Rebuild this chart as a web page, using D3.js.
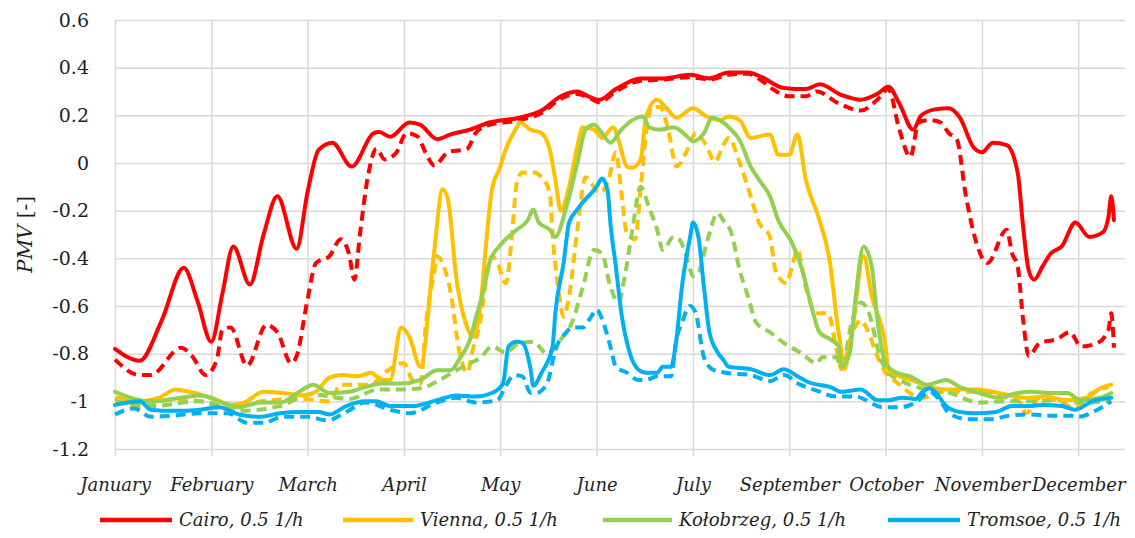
<!DOCTYPE html>
<html>
<head>
<meta charset="utf-8">
<script src="https://cdn.jsdelivr.net/npm/d3@7"></script>
<style>
  body { margin: 0; background: #fff; }
  svg { display: block; }
  text { font-family: "DejaVu Serif", "Liberation Serif", serif; fill: #1f1f1f; }
</style>
</head>
<body>
<svg id="chart" width="1135" height="538"></svg>
<script>
// Day-of-year axis: a label every 35 days
const tickDays = [0, 35, 70, 105, 140, 175, 210, 245, 280, 315, 350];
const tickLabels = ["January", "February", "March", "April", "May", "June", "July",
                    "September", "October", "November", "December"];
const dayDomainEnd = 367;

const yTicks = [0.6, 0.4, 0.2, 0, -0.2, -0.4, -0.6, -0.8, -1, -1.2];
const yTickLabels = ["0.6", "0.4", "0.2", "0", "-0.2", "-0.4", "-0.6", "-0.8", "-1", "-1.2"];

const legendNames = ["Cairo, 0.5 1/h", "Vienna, 0.5 1/h", "Kołobrzeg, 0.5 1/h", "Tromsoe, 0.5 1/h"];
const colors = ["#FF0000", "#FFC000", "#92D050", "#00B0F0"];

// PMV as [day, value]
const cairoSolid = [[0,-0.78],[9,-0.83],[17,-0.66],[25,-0.44],[30,-0.58],[35,-0.75],[39,-0.55],[43,-0.35],[49,-0.51],[54,-0.3],[59,-0.14],[66,-0.36],[70,-0.12],[74,0.055],[79,0.085],[86,-0.015],[94,0.125],[96,0.13],[100,0.11],[107,0.17],[111,0.16],[117,0.10],[122,0.12],[129,0.14],[136,0.17],[147,0.19],[155,0.22],[162,0.28],[168,0.30],[172,0.28],[176,0.265],[182,0.31],[191,0.355],[199,0.355],[209,0.37],[216,0.355],[223,0.38],[230,0.38],[235,0.36],[243,0.315],[251,0.31],[256,0.33],[264,0.285],[271,0.265],[277,0.29],[281,0.32],[285,0.25],[290,0.14],[293,0.20],[298,0.225],[303,0.23],[307,0.19],[312,0.065],[315,0.045],[319,0.085],[324,0.075],[328,-0.04],[330,-0.27],[332,-0.45],[334,-0.49],[337,-0.435],[340,-0.38],[344,-0.35],[349,-0.25],[354,-0.31],[359,-0.29],[361,-0.225],[362,-0.14],[363,-0.24]];
const cairoDashed = [[0,-0.825],[9,-0.89],[13,-0.89],[24,-0.775],[28,-0.81],[33,-0.89],[37,-0.825],[39,-0.70],[42,-0.69],[48,-0.85],[55,-0.68],[59,-0.71],[64,-0.84],[66,-0.81],[70,-0.57],[73,-0.42],[78,-0.39],[82,-0.32],[85,-0.38],[87,-0.49],[89,-0.3],[92,-0.05],[95,0.06],[98,0.015],[102,0.04],[106,0.125],[110,0.11],[113,0.04],[116,-0.01],[121,0.045],[128,0.06],[131,0.125],[136,0.16],[147,0.18],[155,0.21],[162,0.27],[168,0.29],[172,0.275],[176,0.255],[182,0.30],[191,0.345],[199,0.35],[209,0.36],[216,0.35],[223,0.37],[230,0.375],[235,0.345],[239,0.31],[245,0.28],[251,0.28],[255,0.30],[263,0.25],[271,0.22],[277,0.265],[281,0.31],[285,0.14],[289,0.025],[292,0.17],[296,0.18],[300,0.17],[303,0.125],[306,0.095],[309,-0.125],[313,-0.335],[317,-0.42],[324,-0.28],[326,-0.38],[328,-0.435],[330,-0.66],[332,-0.81],[336,-0.755],[342,-0.74],[347,-0.71],[351,-0.77],[357,-0.755],[361,-0.70],[362,-0.63],[363,-0.775]];

const viennaSolid = [[1,-0.985],[9,-1.0],[16,-0.985],[22,-0.95],[27,-0.96],[35,-0.985],[42,-1.015],[47,-1.005],[54,-0.96],[61,-0.965],[68,-0.975],[73,-0.96],[78,-0.90],[83,-0.89],[88,-0.895],[93,-0.88],[97,-0.91],[100,-0.91],[104,-0.69],[107,-0.73],[111,-0.855],[116,-0.37],[119,-0.11],[121,-0.155],[124,-0.48],[128,-0.69],[130,-0.73],[133,-0.575],[135,-0.32],[137,-0.11],[140,-0.015],[141,0.025],[146,0.15],[147,0.17],[151,0.14],[155,0.125],[158,0.055],[160,-0.07],[162,-0.20],[165,-0.10],[168,0.07],[170,0.15],[174,0.14],[177,0.105],[181,0.15],[183,0.095],[186,-0.015],[188,-0.02],[191,0.015],[193,0.195],[197,0.265],[200,0.235],[204,0.19],[210,0.23],[215,0.195],[220,0.18],[223,0.195],[227,0.18],[231,0.105],[238,0.12],[241,0.035],[245,0.035],[248,0.12],[251,-0.07],[256,-0.24],[260,-0.435],[262,-0.63],[264,-0.795],[265,-0.865],[268,-0.69],[272,-0.39],[275,-0.56],[280,-0.77],[281,-0.865],[285,-0.895],[289,-0.91],[301,-0.95],[313,-0.95],[321,-0.965],[331,-0.985],[338,-0.98],[346,-0.995],[353,-0.985],[358,-0.945],[362,-0.93]];
const viennaDashed = [[0,-1.0],[9,-1.02],[22,-0.99],[31,-1.0],[42,-1.03],[53,-1.0],[67,-0.99],[78,-1.0],[82,-0.93],[93,-0.93],[98,-0.88],[105,-0.84],[108,-0.91],[111,-0.925],[113,-0.67],[116,-0.46],[117,-0.39],[119,-0.42],[122,-0.545],[125,-0.785],[128,-0.88],[130,-0.785],[133,-0.645],[135,-0.48],[137,-0.39],[139,-0.42],[142,-0.505],[144,-0.335],[146,-0.085],[148,-0.04],[152,-0.04],[155,-0.06],[158,-0.125],[159,-0.30],[161,-0.52],[163,-0.645],[165,-0.56],[168,-0.28],[171,-0.06],[176,-0.125],[179,-0.085],[182,0.045],[184,-0.125],[186,-0.295],[189,-0.32],[191,-0.11],[193,0.125],[195,0.235],[198,0.235],[201,0.14],[204,-0.015],[208,0.055],[211,0.125],[215,0.07],[218,0.005],[221,0.075],[223,0.105],[227,0.0],[231,-0.14],[234,-0.25],[238,-0.31],[240,-0.45],[244,-0.505],[246,-0.435],[248,-0.365],[251,-0.52],[255,-0.63],[259,-0.63],[262,-0.77],[264,-0.865],[268,-0.71],[271,-0.66],[273,-0.69],[277,-0.81],[280,-0.88],[284,-0.92],[293,-0.985],[301,-0.96],[313,-0.96],[324,-0.985],[329,-1.005],[331,-1.05],[336,-0.985],[343,-1.0],[348,-1.025],[355,-0.965],[361,-0.94]];

const kolobrzegSolid = [[0,-0.96],[13,-1.0],[24,-0.985],[31,-0.975],[38,-1.0],[45,-1.025],[53,-1.005],[60,-1.005],[67,-0.96],[72,-0.93],[78,-0.965],[85,-0.96],[91,-0.94],[97,-0.925],[104,-0.925],[111,-0.91],[117,-0.87],[122,-0.87],[125,-0.825],[129,-0.74],[131,-0.655],[134,-0.53],[136,-0.42],[140,-0.345],[142,-0.32],[146,-0.28],[150,-0.24],[152,-0.195],[154,-0.25],[158,-0.28],[160,-0.31],[164,-0.185],[168,0.0],[171,0.14],[174,0.16],[177,0.125],[180,0.085],[184,0.14],[188,0.18],[192,0.195],[194,0.15],[198,0.14],[203,0.15],[208,0.11],[210,0.09],[214,0.125],[217,0.19],[221,0.17],[223,0.15],[227,0.095],[231,-0.015],[234,-0.07],[238,-0.14],[241,-0.24],[246,-0.335],[250,-0.46],[253,-0.60],[256,-0.71],[260,-0.74],[263,-0.77],[264,-0.855],[267,-0.795],[269,-0.575],[272,-0.35],[275,-0.435],[277,-0.655],[280,-0.84],[284,-0.88],[289,-0.895],[295,-0.93],[302,-0.91],[307,-0.94],[314,-0.965],[321,-0.985],[328,-0.965],[333,-0.96],[341,-0.965],[346,-0.965],[351,-0.995],[358,-0.985],[362,-0.965]];
const kolobrzegDashed = [[0,-0.99],[13,-1.02],[31,-1.0],[45,-1.04],[60,-1.02],[71,-0.97],[85,-0.99],[96,-0.95],[104,-0.95],[111,-0.945],[118,-0.91],[124,-0.87],[129,-0.84],[133,-0.815],[137,-0.77],[142,-0.795],[147,-0.755],[152,-0.75],[157,-0.80],[162,-0.74],[166,-0.67],[170,-0.52],[174,-0.365],[177,-0.38],[180,-0.52],[183,-0.585],[185,-0.49],[188,-0.28],[191,-0.10],[194,-0.185],[197,-0.28],[199,-0.365],[203,-0.31],[205,-0.32],[208,-0.405],[210,-0.475],[212,-0.46],[215,-0.335],[219,-0.21],[221,-0.24],[224,-0.295],[227,-0.45],[230,-0.56],[233,-0.67],[238,-0.71],[243,-0.755],[249,-0.795],[255,-0.84],[257,-0.815],[262,-0.815],[264,-0.855],[268,-0.655],[271,-0.585],[274,-0.63],[278,-0.815],[281,-0.88],[285,-0.91],[295,-0.95],[302,-0.96],[314,-1.005],[324,-1.0],[333,-1.0],[343,-0.995],[353,-1.005],[362,-1.0]];

const tromsoeSolid = [[0,-1.015],[9,-1.0],[13,-1.035],[21,-1.04],[31,-1.035],[38,-1.025],[45,-1.055],[53,-1.065],[60,-1.05],[67,-1.045],[74,-1.045],[78,-1.055],[84,-1.02],[91,-1.0],[95,-1.0],[100,-1.02],[108,-1.02],[117,-0.995],[124,-0.975],[131,-0.98],[137,-0.965],[141,-0.925],[143,-0.77],[146,-0.75],[148,-0.755],[151,-0.865],[152,-0.935],[155,-0.88],[159,-0.77],[160,-0.63],[163,-0.42],[165,-0.25],[168,-0.195],[170,-0.165],[172,-0.14],[175,-0.10],[177,-0.065],[179,-0.115],[180,-0.25],[182,-0.435],[184,-0.63],[187,-0.795],[190,-0.865],[193,-0.88],[197,-0.88],[199,-0.855],[202,-0.855],[204,-0.74],[206,-0.52],[209,-0.31],[210,-0.25],[212,-0.31],[214,-0.52],[216,-0.71],[219,-0.795],[221,-0.825],[223,-0.855],[231,-0.865],[238,-0.89],[243,-0.865],[248,-0.895],[252,-0.92],[260,-0.94],[264,-0.96],[271,-0.95],[277,-0.995],[281,-0.995],[286,-0.985],[291,-0.99],[293,-0.965],[296,-0.945],[298,-0.96],[302,-1.02],[307,-1.045],[313,-1.05],[320,-1.045],[326,-1.02],[332,-1.02],[337,-1.015],[344,-1.02],[349,-1.035],[355,-1.0],[362,-0.985]];
const tromsoeDashed = [[0,-1.055],[7,-1.03],[13,-1.065],[21,-1.06],[31,-1.05],[41,-1.05],[48,-1.09],[54,-1.09],[61,-1.065],[70,-1.065],[77,-1.08],[84,-1.045],[91,-1.005],[100,-1.035],[107,-1.05],[117,-1.005],[124,-0.985],[131,-1.005],[139,-0.995],[142,-0.935],[145,-0.89],[148,-0.895],[151,-0.965],[153,-0.965],[157,-0.925],[160,-0.785],[164,-0.71],[166,-0.69],[170,-0.69],[173,-0.645],[175,-0.615],[177,-0.655],[180,-0.77],[182,-0.855],[186,-0.88],[190,-0.91],[193,-0.91],[197,-0.895],[202,-0.895],[204,-0.74],[206,-0.67],[209,-0.60],[211,-0.63],[214,-0.815],[217,-0.865],[222,-0.88],[231,-0.89],[238,-0.915],[243,-0.89],[249,-0.93],[255,-0.955],[262,-0.98],[269,-0.98],[279,-1.025],[285,-1.025],[291,-1.005],[296,-0.96],[300,-1.0],[303,-1.05],[310,-1.075],[318,-1.075],[325,-1.06],[332,-1.055],[340,-1.06],[347,-1.06],[350,-1.065],[357,-1.035],[362,-1.0]];

const solidSeries = [cairoSolid, viennaSolid, kolobrzegSolid, tromsoeSolid];
const dashedSeries = [cairoDashed, viennaDashed, kolobrzegDashed, tromsoeDashed];

// ---- layout ----
const svg = d3.select("#chart");
const plot = { left: 115, right: 1125, top: 20, bottom: 449 };
const gridColor = "#d9d9d9";

const x = d3.scaleLinear().domain([0, dayDomainEnd]).range([plot.left, plot.right]);
const y = d3.scaleLinear().domain([-1.2, 0.6]).range([plot.bottom, plot.top]);

// horizontal gridlines + y labels
const yAxis = d3.axisLeft(y).tickValues(yTicks)
  .tickSize(-(plot.right - plot.left))
  .tickPadding(26)
  .tickFormat((d, i) => yTickLabels[i]);
const gy = svg.append("g").attr("transform", `translate(${plot.left},0)`).call(yAxis);
gy.select(".domain").remove();
gy.selectAll(".tick line").attr("stroke", gridColor).attr("stroke-width", 1.5);
gy.selectAll(".tick text").attr("font-size", 19).attr("fill", "#1f1f1f");

// vertical gridlines at the month labels, with small ticks under the axis
const xAxis = d3.axisBottom(x).tickValues(tickDays)
  .tickSize(-(plot.bottom - plot.top))
  .tickFormat((d, i) => tickLabels[i]);
const gx = svg.append("g").attr("transform", `translate(0,${plot.bottom})`).call(xAxis);
gx.select(".domain").remove();
gx.selectAll(".tick line").attr("stroke", gridColor).attr("stroke-width", 1.5)
  .attr("y2", -(plot.bottom - plot.top)).attr("y1", 7);
gx.selectAll(".tick text").attr("font-size", 18).attr("font-style", "italic")
  .attr("fill", "#1f1f1f").attr("y", 29).attr("dy", "0.71em");

// axis title
svg.append("text")
  .attr("transform", `translate(25,${(plot.top + plot.bottom) / 2}) rotate(-90)`)
  .attr("text-anchor", "middle")
  .attr("font-size", 20)
  .attr("dy", "0.35em")
  .call(t => {
    t.append("tspan").attr("font-style", "italic").text("PMV");
    t.append("tspan").text(" [-]");
  });

// series
const line = d3.line()
  .x(d => x(d[0]))
  .y(d => y(d[1]))
  .curve(d3.curveMonotoneX);

const gLines = svg.append("g").attr("fill", "none").attr("stroke-width", 4)
  .attr("stroke-linejoin", "round");

dashedSeries.forEach((s, i) => {
  gLines.append("path").datum(s).attr("d", line)
    .attr("stroke", colors[i]).attr("stroke-dasharray", "10,6");
});
solidSeries.forEach((s, i) => {
  gLines.append("path").datum(s).attr("d", line)
    .attr("stroke", colors[i]).attr("stroke-linecap", "round");
});

// legend
const legendY = 520;
const legendItems = [
  { x0: 100, x1: 172 },
  { x0: 343, x1: 413 },
  { x0: 603, x1: 672 },
  { x0: 888, x1: 960 }
];
const gLegend = svg.append("g");
legendItems.forEach((it, i) => {
  gLegend.append("line")
    .attr("x1", it.x0).attr("x2", it.x1)
    .attr("y1", legendY).attr("y2", legendY)
    .attr("stroke", colors[i]).attr("stroke-width", 4.5);
  gLegend.append("text")
    .attr("x", it.x1 + 7).attr("y", legendY)
    .attr("dy", "0.35em")
    .attr("font-size", 18).attr("font-style", "italic")
    .text(legendNames[i]);
});
</script>
</body>
</html>
